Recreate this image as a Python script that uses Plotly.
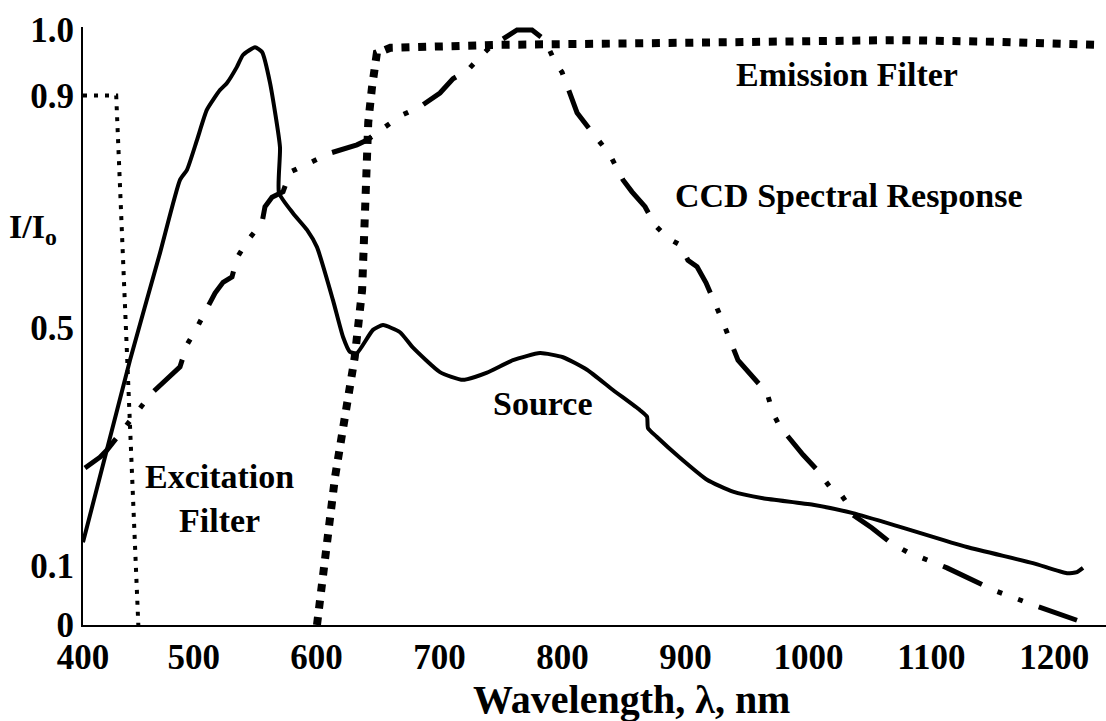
import plotly.graph_objects as go

# Wavelength (nm) / relative intensity pairs for each curve
excitation_wl = [410, 437, 455]
excitation_val = [0.89, 0.89, 0.0]

emission_wl = [600.3, 615, 631, 637, 640, 642, 645, 649, 660, 749, 879, 1074, 1156, 1237]
emission_val = [0.0, 0.249, 0.450, 0.563, 0.731, 0.845, 0.903, 0.961, 0.970, 0.975, 0.978, 0.983, 0.980, 0.975]

source_wl = [410, 448.2, 472.6, 488.9, 494.6, 502.7, 510.8, 521.4, 527.1, 535.2, 540.1, 549.9,
             555.6, 562.1, 570.2, 569.4, 580.8, 592.2, 600.3, 613.3, 621.5, 627.1, 632.8, 645.8,
             654.0, 667.8, 678.4, 700.3, 719.0, 738.6, 759.7, 781.7, 800.4, 819.9, 841.0, 863.0,
             868.7, 869.5, 876.8, 895.5, 917.5, 938.6, 963.0, 1003.7, 1036.2, 1074.4, 1128.9,
             1182.6, 1210.3, 1218.4, 1223.3]
source_val = [0.139, 0.445, 0.625, 0.748, 0.765, 0.815, 0.866, 0.899, 0.911, 0.938, 0.958, 0.971,
              0.963, 0.911, 0.803, 0.726, 0.692, 0.664, 0.635, 0.546, 0.484, 0.459, 0.457, 0.496,
              0.504, 0.492, 0.466, 0.425, 0.412, 0.424, 0.445, 0.457, 0.450, 0.429, 0.395, 0.361,
              0.350, 0.331, 0.316, 0.281, 0.244, 0.224, 0.213, 0.202, 0.188, 0.165, 0.131,
              0.104, 0.087, 0.089, 0.096]

ccd_wl = [411.6, 423.8, 429.5, 446.6, 456.4, 466.1, 488.9, 491.3, 494.6, 503.5, 511.7, 517.4,
          523.9, 531.2, 535.2, 544.2, 555.6, 558.0, 563.7, 572.7, 578.3, 594.6, 610.9, 632.8,
          641.0, 655.6, 669.4, 684.1, 700.3, 710.9, 723.1, 731.2, 741.0, 763.0, 775.2, 785.7,
          793.9, 799.6, 811.8, 820.7, 828.8, 838.6, 849.2, 856.5, 867.1, 875.2, 885.8, 895.5,
          902.0, 909.4, 916.7, 924.0, 929.7, 942.7, 954.9, 966.3, 971.2, 976.9, 980.9, 987.4,
          995.6, 1006.9, 1017.5, 1025.6, 1031.3, 1036.2, 1051.7, 1066.3, 1080.1, 1112.7,
          1127.3, 1137.9, 1150.1, 1182.6, 1200.5, 1218.4]
ccd_val = [0.264, 0.282, 0.294, 0.339, 0.365, 0.390, 0.434, 0.450, 0.471, 0.503, 0.533, 0.558,
           0.576, 0.585, 0.617, 0.647, 0.676, 0.703, 0.719, 0.728, 0.761, 0.778, 0.793, 0.807,
           0.815, 0.837, 0.857, 0.871, 0.894, 0.918, 0.933, 0.951, 0.971, 1.0, 1.0, 0.983,
           0.946, 0.929, 0.861, 0.837, 0.815, 0.790, 0.748, 0.728, 0.703, 0.672, 0.650, 0.639,
           0.613, 0.602, 0.575, 0.541, 0.513, 0.445, 0.417, 0.390, 0.356, 0.333, 0.323, 0.306,
           0.286, 0.261, 0.232, 0.222, 0.205, 0.185, 0.163, 0.139, 0.123, 0.096,
           0.081, 0.071, 0.059, 0.034, 0.022, 0.008]

x_tick_vals = [410, 500, 600, 700, 800, 900, 1000, 1100, 1200]
x_tick_text = ["400", "500", "600", "700", "800", "900", "1000", "1100", "1200"]
y_tick_vals = [0, 0.1, 0.5, 0.89, 1.0]
y_tick_text = ["0", "0.1", "0.5", "0.9", "1.0"]

FONT = "Liberation Serif"

fig = go.Figure()

fig.add_trace(go.Scatter(
    x=excitation_wl, y=excitation_val, mode="lines",
    line=dict(color="black", width=4, dash="4px,7px"),
))
fig.add_trace(go.Scatter(
    x=emission_wl, y=emission_val, mode="lines",
    line=dict(color="black", width=8, dash="8px,8.7px"),
))
fig.add_trace(go.Scatter(
    x=ccd_wl, y=ccd_val, mode="lines",
    line=dict(color="black", width=5, dash="43px,17px,5px,17px,5px,17px"),
))
fig.add_trace(go.Scatter(
    x=source_wl, y=source_val, mode="lines",
    line=dict(color="black", width=4, shape="spline", smoothing=0.5),
))

label_font = dict(family=FONT, size=34, color="black", weight="bold")
fig.add_annotation(x=1031, y=0.926, text="Emission Filter", showarrow=False, font=label_font)
fig.add_annotation(x=1033, y=0.721, text="CCD Spectral Response", showarrow=False, font=label_font)
fig.add_annotation(x=784, y=0.373, text="Source", showarrow=False, font=label_font)
fig.add_annotation(x=521, y=0.213, text="Excitation<br>Filter", showarrow=False, font=label_font)

# axis titles
fig.add_annotation(xref="paper", yref="paper", x=0.536, y=-0.125, text="Wavelength, λ, nm",
                   xanchor="center", yanchor="middle", showarrow=False,
                   font=dict(family=FONT, size=40, color="black", weight="bold"))
fig.add_annotation(xref="paper", yref="paper", x=-0.049, y=0.662, text="I/I<sub>o</sub>",
                   xanchor="center", yanchor="middle", showarrow=False, font=label_font)

tick_font = dict(family=FONT, size=35, color="black", weight="bold")

fig.update_layout(
    width=1106, height=721, autosize=False,
    margin=dict(l=83, r=0, t=27, b=96),
    paper_bgcolor="white", plot_bgcolor="white",
    showlegend=False,
    font=dict(family=FONT, size=34, color="black", weight="bold"),
)
fig.update_xaxes(
    range=[410, 1242], showgrid=False, zeroline=False,
    showline=True, linecolor="black", linewidth=2,
    tickvals=x_tick_vals, ticktext=x_tick_text, ticks="",
    tickfont=tick_font,
)
fig.update_yaxes(
    range=[0, 1.005], showgrid=False, zeroline=False,
    showline=True, linecolor="black", linewidth=2,
    tickvals=y_tick_vals, ticktext=y_tick_text, ticks="",
    tickfont=tick_font,
)

fig.write_html("out.html")
